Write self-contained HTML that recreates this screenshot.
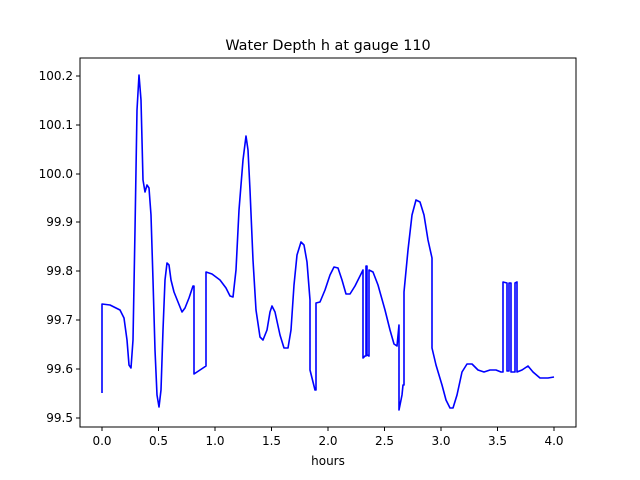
<!DOCTYPE html>
<html><head><style>body{margin:0;background:#fff}svg{display:block}text{font-family:"DejaVu Sans","Liberation Sans",sans-serif;fill:#000}</style></head><body>
<svg width="640" height="480" viewBox="0 0 640 480">
<rect width="640" height="480" fill="#fff"/>
<text x="328" y="50" font-size="14.4" text-anchor="middle">Water Depth h at gauge 110</text>
<polyline fill="none" stroke="#0000ff" stroke-width="1.6" stroke-linejoin="round" points="102,393 102,304 110,305 120,310 124,318 127,340 129,365 131,368 133,340 135,230 137,110 139,75 141,100 143,180 145,192 147,185 149,188 151,215 153,280 155,350 157,395 159,407 161,390 163,330 165,280 167,263 169,265 171,280 174,292 178,302 182,312 185,308 189,298 193,286 194,286 194,374 200,370 206,366 206,272 212,274 220,280 226,288 230,296 233,297 236,270 239,210 243,160 246,136 248,150 250,190 253,260 256,310 260,337 263,340 267,330 270,312 272,306 275,312 280,335 284,348 288,348 291,330 294,285 297,255 301,242 304,245 307,262 310,300 310,370 313,382 315,390 316,390 316,303 320,302 325,290 330,275 334,267 338,268 342,280 346,294 350,294 355,286 360,276 363,270 363,358 365,356 366,356 366,266 367,266 367,355 369,356 369,270 373,272 378,285 385,310 390,330 394,344 397,346 399,325 399,410 402,395 403,385 404,385 404,292 408,250 412,215 416,200 420,202 424,215 428,240 432,258 432,348 436,365 442,385 446,400 450,408 453,408 457,395 462,372 467,364 472,364 478,370 484,372 490,370 496,370 501,372 503,372 503,282 507,283 507,371 509,371 509,283 511,283 511,372 515,372 515,283 517,282 517,372 522,370 528,366 533,372 540,378 548,378 554,377"/>
<rect x="80" y="58" width="496" height="369" fill="none" stroke="#000" stroke-width="1"/>
<g stroke="#000" stroke-width="1">
<line x1="102" y1="427" x2="102" y2="431"/><line x1="158.5" y1="427" x2="158.5" y2="431"/><line x1="215" y1="427" x2="215" y2="431"/><line x1="271.5" y1="427" x2="271.5" y2="431"/><line x1="328" y1="427" x2="328" y2="431"/><line x1="384.5" y1="427" x2="384.5" y2="431"/><line x1="441" y1="427" x2="441" y2="431"/><line x1="497.5" y1="427" x2="497.5" y2="431"/><line x1="554" y1="427" x2="554" y2="431"/>
<line x1="76" y1="418" x2="80" y2="418"/><line x1="76" y1="369" x2="80" y2="369"/><line x1="76" y1="320" x2="80" y2="320"/><line x1="76" y1="271" x2="80" y2="271"/><line x1="76" y1="222" x2="80" y2="222"/><line x1="76" y1="174" x2="80" y2="174"/><line x1="76" y1="125" x2="80" y2="125"/><line x1="76" y1="76" x2="80" y2="76"/>
</g>
<g font-size="12" text-anchor="middle">
<text x="102" y="445">0.0</text><text x="158.5" y="445">0.5</text><text x="215" y="445">1.0</text><text x="271.5" y="445">1.5</text><text x="328" y="445">2.0</text><text x="384.5" y="445">2.5</text><text x="441" y="445">3.0</text><text x="497.5" y="445">3.5</text><text x="554" y="445">4.0</text>
</g>
<text x="328" y="465" font-size="12" text-anchor="middle">hours</text>
<g font-size="12" text-anchor="end">
<text x="73" y="422">99.5</text><text x="73" y="373">99.6</text><text x="73" y="324">99.7</text><text x="73" y="275">99.8</text><text x="73" y="226">99.9</text><text x="73" y="178">100.0</text><text x="73" y="129">100.1</text><text x="73" y="80">100.2</text>
</g>
</svg>
</body></html>
